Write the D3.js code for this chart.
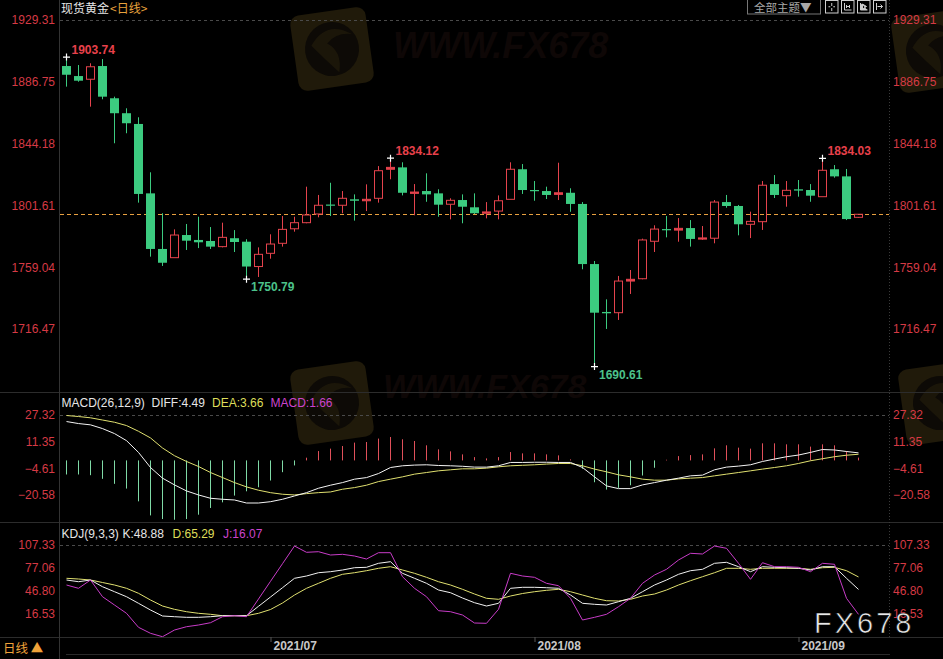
<!DOCTYPE html>
<html><head><meta charset="utf-8">
<script src="https://cdn.jsdelivr.net/npm/d3@7"></script>
<style>html,body{margin:0;padding:0;background:#000;overflow:hidden}</style>
</head><body><svg id="c" width="943" height="659"></svg>
<script>
// ---------------- DATA ----------------
const dates = [
 "2021-06-08","2021-06-09","2021-06-10","2021-06-11","2021-06-14","2021-06-15","2021-06-16","2021-06-17","2021-06-18",
 "2021-06-21","2021-06-22","2021-06-23","2021-06-24","2021-06-25","2021-06-28","2021-06-29","2021-06-30",
 "2021-07-01","2021-07-02","2021-07-05","2021-07-06","2021-07-07","2021-07-08","2021-07-09","2021-07-12","2021-07-13",
 "2021-07-14","2021-07-15","2021-07-16","2021-07-19","2021-07-20","2021-07-21","2021-07-22","2021-07-23","2021-07-26",
 "2021-07-27","2021-07-28","2021-07-29","2021-07-30",
 "2021-08-02","2021-08-03","2021-08-04","2021-08-05","2021-08-06","2021-08-09","2021-08-10","2021-08-11","2021-08-12",
 "2021-08-13","2021-08-16","2021-08-17","2021-08-18","2021-08-19","2021-08-20","2021-08-23","2021-08-24","2021-08-25",
 "2021-08-26","2021-08-27","2021-08-30","2021-08-31",
 "2021-09-01","2021-09-02","2021-09-03","2021-09-06","2021-09-07","2021-09-08"];
const open  = [1897.6,1890.7,1888.5,1897.6,1875.4,1865.1,1857.7,1809.9,1771.6,1765.6,1781.2,1777.8,1777.1,1773.2,1779.0,1776.6,1759.5,
 1768.6,1775.5,1785.5,1789.7,1795.7,1802.2,1801.7,1805.8,1804.8,1806.5,1826.5,1827.8,1809.9,1811.5,1809.9,1802.4,1805.3,1800.3,1796.2,1797.7,1805.8,1826.5,
 1812.2,1811.5,1809.2,1810.3,1802.6,1761.2,1728.2,1727.7,1749.5,1751.1,1776.9,1785.3,1784.6,1786.0,1778.4,1779.0,1803.9,1801.2,1788.6,1790.4,1816.3,1808.3,
 1812.7,1812.2,1807.6,1826.5,1821.6,1793.4];
const high  = [1903.74,1898.3,1899.5,1902.4,1876.5,1868.5,1862.3,1824.4,1796.2,1785.1,1788.8,1793.8,1786.7,1789.7,1784.6,1778.3,1772.7,
 1781.7,1794.3,1793.8,1814.5,1808.8,1817.2,1811.5,1809.2,1816.1,1828.7,1834.12,1831.3,1816.3,1823.7,1812.7,1806.5,1809.2,1809.9,1803.9,1808.5,1831.3,1830.1,
 1818.4,1814.5,1831.0,1813.4,1803.9,1763.3,1736.9,1753.0,1757.1,1778.7,1787.9,1794.3,1792.9,1791.5,1787.4,1805.3,1808.8,1801.9,1797.3,1818.4,1822.5,1818.4,
 1819.1,1816.3,1834.03,1829.4,1826.7,1795.5];
const low   = [1883.4,1886.8,1869.6,1874.7,1844.4,1851.3,1803.5,1766.3,1759.9,1765.6,1770.9,1772.2,1771.6,1772.7,1769.5,1750.79,1752.3,
 1764.9,1773.2,1783.5,1789.3,1793.4,1794.3,1796.2,1791.1,1797.7,1803.5,1819.6,1808.5,1794.8,1804.1,1793.8,1792.0,1789.3,1795.7,1792.7,1792.0,1805.8,1809.5,
 1804.8,1806.0,1805.3,1797.2,1757.6,1690.61,1716.5,1722.7,1740.6,1750.7,1769.5,1779.6,1776.6,1773.2,1777.8,1775.5,1800.0,1781.0,1779.1,1784.7,1806.7,1800.7,
 1807.6,1804.1,1807.6,1820.7,1791.5,1793.0];
const close = [1891.6,1887.5,1897.1,1876.5,1865.1,1858.2,1809.5,1771.6,1762.1,1781.2,1777.3,1776.2,1773.2,1779.6,1776.4,1759.5,1767.9,
 1775.0,1785.1,1789.7,1795.0,1801.7,1801.7,1806.5,1804.8,1805.8,1825.5,1827.8,1810.3,1810.8,1809.2,1802.1,1805.1,1800.7,1796.2,1797.1,1804.8,1826.5,1812.2,
 1811.8,1808.8,1810.3,1802.6,1761.2,1727.7,1727.3,1749.5,1750.7,1777.8,1785.3,1784.6,1785.8,1778.5,1779.2,1803.9,1801.2,1788.6,1790.6,1815.5,1808.8,1812.0,
 1811.8,1808.3,1825.8,1821.6,1792.2,1795.5];

const diff = [23.13,21.93,21.16,18.94,15.95,11.76,4.76,-4.22,-10.56,-14.57,-18.16,-20.55,-22.53,-23.12,-23.54,-25.34,-25.34,-24.56,-23.12,-21.15,
 -19.18,-16.55,-14.75,-13.19,-11.16,-10.22,-7.81,-4.22,-3.20,-2.78,-2.60,-3.02,-3.20,-3.50,-3.98,-4.00,-3.20,-1.22,-1.22,-1.10,
 -1.10,-1.22,-1.22,-4.22,-9.78,-15.17,-16.78,-16.78,-14.57,-13.19,-11.76,-10.56,-9.18,-8.76,-5.59,-3.98,-3.38,-2.60,-0.63,0.81,
 2.19,3.20,4.76,6.50,6.20,5.30,4.49];
const dea = [26.72,26.12,25.35,24.03,22.71,20.74,17.33,13.38,7.39,2.79,-0.63,-3.62,-7.21,-10.20,-13.19,-15.76,-17.74,-19.18,-20.13,-20.55,
 -19.77,-19.18,-18.76,-17.14,-16.18,-14.75,-12.59,-11.16,-9.78,-8.17,-7.21,-6.19,-5.59,-4.99,-4.99,-4.60,-3.80,-3.20,-2.90,-2.60,
 -2.18,-1.82,-1.82,-3.20,-5.17,-6.79,-8.58,-9.78,-11.16,-11.76,-11.76,-10.98,-10.56,-10.20,-9.18,-8.17,-7.21,-6.19,-5.17,-4.22,
 -3.20,-1.82,-0.20,1.00,2.20,3.10,3.66];
const macdHist = [-8.38,-8.38,-8.80,-10.95,-13.94,-16.76,-24.35,-32.73,-34.89,-35.30,-34.90,-32.30,-28.30,-24.95,-20.94,-18.37,-15.98,-11.97,-7.00,-2.99,
 1.62,5.57,7.00,8.56,10.59,10.95,12.99,13.94,12.57,11.55,8.98,6.58,5.38,3.59,1.97,1.20,1.97,4.97,4.19,4.19,
 3.59,2.99,0.60,-4.97,-12.99,-17.35,-16.34,-14.78,-8.98,-4.37,0.40,2.57,3.17,3.59,7.18,8.98,7.60,7.00,10.17,10.17,
 9.57,9.57,8.20,9.57,8.98,5.57,1.66];

const kVal = [61.27,59.03,61.27,52.45,45.87,39.29,30.60,21.78,13.89,12.97,12.17,12.17,12.97,14.28,14.28,14.28,26.65,38.89,51.13,63.50,
 66.53,70.87,72.19,74.43,77.45,77.98,83.24,85.35,70.08,63.50,56.92,48.10,44.55,37.58,31.39,27.05,30.60,50.34,51.66,51.66,
 51.13,50.34,41.53,30.60,29.29,28.36,32.71,37.18,45.87,54.69,61.27,68.77,73.51,75.35,83.24,84.56,78.77,72.19,78.77,77.98,
 77.45,76.66,74.43,78.77,78.77,63.50,48.88];
const dVal = [63.50,62.58,61.27,57.97,54.69,50.34,43.76,34.94,27.05,22.67,19.55,17.44,16.12,14.28,14.28,14.28,17.44,22.44,30.99,41.53,
 50.34,56.92,63.50,68.77,70.87,73.51,76.66,78.77,74.43,70.08,64.82,59.03,54.69,49.03,42.84,37.18,35.86,40.21,43.50,45.87,
 47.71,49.03,45.87,41.53,37.18,34.02,33.63,35.86,40.21,42.84,48.10,54.69,60.35,65.61,70.87,76.66,76.66,75.35,76.66,76.66,
 76.66,76.66,75.35,77.45,77.98,73.51,65.29];
const jVal = [54.69,50.34,61.27,39.29,28.36,17.44,-0.99,-8.88,-13.36,-4.54,-0.20,2.04,5.07,12.97,14.28,12.97,36.26,59.55,82.72,106.01,
 97.72,98.51,94.17,95.09,92.85,88.90,97.20,97.20,65.61,50.34,39.29,20.86,19.55,15.20,4.67,4.28,22.70,70.08,66.53,64.82,
 56.92,53.76,37.18,8.62,12.17,16.12,26.13,37.18,56.92,67.85,75.35,87.59,96.41,95.49,106.01,102.99,83.24,62.19,84.03,78.77,
 78.77,77.98,72.19,83.24,81.93,37.18,16.07];

const priceTicks = [1929.31,1886.75,1844.18,1801.61,1759.04,1716.47];
const macdTicks  = [27.32,11.35,-4.61,-20.58];
const kdjTicks   = [107.33,77.06,46.80,16.53];
const monthStarts = ["2021-07-01","2021-08-02","2021-09-01"];
const monthLabels = ["2021/07","2021/08","2021/09"];
const highMarks = ["2021-06-08","2021-07-15","2021-09-03"];
const lowMarks  = ["2021-06-29","2021-08-09"];
const lastPrice = 1795.5;

// ---------------- DRAW ----------------
const W = 943, H = 659;
const FONT = '"Liberation Sans", Arial, sans-serif';
const CJK = '"Noto Sans CJK SC", sans-serif';
const RED = '#e5434d', GREEN = '#3ccb80', AXRED = '#d63a45';
const svg = d3.select('#c');
svg.append('rect').attr('width', W).attr('height', H).attr('fill', '#000');

const x = d3.scalePoint().domain(dates).range([66, 858]);
const yP = d3.scaleLinear().domain([1716.47, 1929.31]).range([329, 20]);
const yM = d3.scaleLinear().domain([-20.58, 27.32]).range([495, 414.5]);
const yK = d3.scaleLinear().domain([16.53, 107.33]).range([614, 545]);
const idx = d3.range(dates.length);
const cx = i => x(dates[i]) + 0.5;

// watermarks (faint)
const wm = svg.append('g');
[[292, 8], [893, 10], [292, 362], [900, 362]].forEach(([wx, wy]) => {
  const lg = wm.append('g').attr('transform', `translate(${wx + 40},${wy + 41}) rotate(-8)`);
  lg.append('rect').attr('x', -38).attr('y', -38).attr('width', 76).attr('height', 76).attr('rx', 9).attr('fill', '#201a0a');
  lg.append('circle').attr('r', 27).attr('fill', '#0d0a06');
  lg.append('path').attr('d', 'M-20,-6 Q-2,-30 22,-12 Q6,-16 -4,-6 Q10,4 4,24 Q-8,10 -20,-6Z').attr('fill', '#1b1609');
});
[[393, 58, 36], [383, 398, 34]].forEach(([tx, ty, fs]) => {
  wm.append('text').attr('x', tx).attr('y', ty).text('WWW.FX678')
    .attr('font-family', FONT).attr('font-weight', 'bold').attr('font-style', 'italic')
    .attr('font-size', fs).attr('fill', '#0e0706');
});

// frame lines
const frame = svg.append('g');
[392.5, 522.5, 637.5].forEach(yy => frame.append('line').attr('x1', 0).attr('x2', W).attr('y1', yy).attr('y2', yy).attr('stroke', '#2c2c2c'));
frame.append('line').attr('x1', 66).attr('x2', 890).attr('y1', 654.5).attr('y2', 654.5).attr('stroke', '#2a2a2a');
frame.append('line').attr('x1', 59.5).attr('x2', 59.5).attr('y1', 0).attr('y2', H).attr('stroke', '#333');
frame.append('line').attr('x1', 889.5).attr('x2', 889.5).attr('y1', 0).attr('y2', 637).attr('stroke', '#3a3a3a').attr('stroke-dasharray', '1,2');
[[yP(priceTicks[0])], [yM(macdTicks[0])], [yK(kdjTicks[0])]].forEach(([yy]) =>
  frame.append('line').attr('x1', 60).attr('x2', 889).attr('y1', Math.round(yy) + 0.5).attr('y2', Math.round(yy) + 0.5)
    .attr('stroke', '#4a4a4a').attr('stroke-dasharray', '3,3'));

// clips
const defs = svg.append('defs');
defs.append('clipPath').attr('id', 'cm').append('rect').attr('x', 60).attr('y', 393).attr('width', 829).attr('height', 129);
defs.append('clipPath').attr('id', 'ck').append('rect').attr('x', 60).attr('y', 523).attr('width', 829).attr('height', 114);

// current price dashed line
svg.append('line').attr('x1', 60).attr('x2', 889)
  .attr('y1', Math.round(yP(lastPrice)) + 0.5).attr('y2', Math.round(yP(lastPrice)) + 0.5)
  .attr('stroke', '#e8a040').attr('stroke-dasharray', '4,3');

// candles
const cg = svg.append('g');
idx.forEach(i => {
  const o = open[i], c = close[i], h = high[i], l = low[i];
  const X = cx(i);
  if (c >= o) {
    const top = yP(c), bot = yP(o);
    cg.append('line').attr('x1', X).attr('x2', X).attr('y1', yP(h)).attr('y2', top).attr('stroke', RED);
    cg.append('line').attr('x1', X).attr('x2', X).attr('y1', bot).attr('y2', yP(l)).attr('stroke', RED);
    cg.append('rect').attr('x', X - 4).attr('y', top).attr('width', 8).attr('height', Math.max(bot - top, 0.8))
      .attr('fill', (bot - top) < 2.5 ? RED : 'none').attr('stroke', RED);
  } else {
    const top = yP(o), bot = yP(c);
    cg.append('line').attr('x1', X).attr('x2', X).attr('y1', yP(h)).attr('y2', yP(l)).attr('stroke', GREEN);
    cg.append('rect').attr('x', X - 4.5).attr('y', top).attr('width', 9).attr('height', Math.max(bot - top, 1.2)).attr('fill', GREEN);
  }
});

// extreme markers
function cross(X, Y) {
  cg.append('path').attr('d', `M${X - 3.5},${Y}H${X + 3.5}M${X},${Y - 3.5}V${Y + 3.5}`).attr('stroke', '#fff').attr('stroke-width', 1.2);
}
highMarks.forEach(d => {
  const i = dates.indexOf(d), X = cx(i), Y = yP(high[i]);
  cross(X, Y);
  cg.append('text').attr('x', X + 5).attr('y', Y - 3).text(d3.format('.2f')(high[i]))
    .attr('fill', '#e8414b').attr('font-family', FONT).attr('font-weight', 'bold').attr('font-size', 12);
});
lowMarks.forEach(d => {
  const i = dates.indexOf(d), X = cx(i), Y = yP(low[i]);
  cross(X, Y);
  cg.append('text').attr('x', X + 4.5).attr('y', Y + 12).text(d3.format('.2f')(low[i]))
    .attr('fill', '#4cc28a').attr('font-family', FONT).attr('font-weight', 'bold').attr('font-size', 12);
});

// MACD panel
const mg = svg.append('g').attr('clip-path', 'url(#cm)');
idx.forEach(i => {
  const v = macdHist[i];
  mg.append('line').attr('x1', cx(i)).attr('x2', cx(i)).attr('y1', yM(0)).attr('y2', yM(v))
    .attr('stroke', v >= 0 ? '#e0505a' : '#7fdaa6');
});
mg.append('path').datum(idx).attr('fill', 'none').attr('stroke', '#e0e070')
  .attr('d', d3.line().x(i => cx(i)).y(i => yM(dea[i])));
mg.append('path').datum(idx).attr('fill', 'none').attr('stroke', '#f4f4f4')
  .attr('d', d3.line().x(i => cx(i)).y(i => yM(diff[i])));

// KDJ panel
const kg = svg.append('g').attr('clip-path', 'url(#ck)');
[[dVal, '#e0e070'], [kVal, '#f0f0f0'], [jVal, '#c83cc8']].forEach(([arr, col]) =>
  kg.append('path').datum(idx).attr('fill', 'none').attr('stroke', col)
    .attr('d', d3.line().x(i => cx(i)).y(i => yK(arr[i]))));

// axes
function styleAxis(g) {
  g.select('.domain').remove();
  g.selectAll('.tick line').remove();
  g.attr('font-family', FONT).attr('font-size', 12);
  g.selectAll('text').attr('fill', AXRED);
}
const fmt = d3.format('.2f');
[[priceTicks, yP], [macdTicks, yM], [kdjTicks, yK]].forEach(([t, s]) => {
  svg.append('g').attr('transform', 'translate(58,0)')
    .call(d3.axisLeft(s).tickValues(t).tickSize(0).tickPadding(3).tickFormat(fmt)).call(styleAxis);
  svg.append('g').attr('transform', 'translate(889,0)')
    .call(d3.axisRight(s).tickValues(t).tickSize(0).tickPadding(4).tickFormat(fmt)).call(styleAxis);
});

// time axis
const xa = svg.append('g').attr('transform', 'translate(0,637)')
  .call(d3.axisBottom(x).tickValues(monthStarts).tickSize(5).tickFormat((d, i) => monthLabels[i]));
xa.select('.domain').remove();
xa.selectAll('.tick line').attr('stroke', '#555').attr('transform', 'translate(0.5,0)');
xa.selectAll('text').attr('text-anchor', 'start').attr('x', 3).attr('y', 4).attr('dy', '0.71em')
  .attr('fill', '#c8c8c8').attr('font-family', FONT).attr('font-size', 12).attr('font-weight', 'bold');

// headers
const hd = svg.append('g').attr('font-size', 12);
hd.append('text').attr('x', 61).attr('y', 13).attr('font-family', CJK).attr('fill', '#e6e6e6').text('现货黄金');
hd.append('text').attr('x', 110).attr('y', 13).attr('font-family', CJK).attr('fill', '#e8a33d').text('<日线>');
[['MACD(26,12,9)', 61.5, '#e6e6e6'], ['DIFF:4.49', 151.5, '#e6e6e6'], ['DEA:3.66', 212, '#dede5a'], ['MACD:1.66', 270.5, '#cc44cc']]
  .forEach(([t, xx, col]) => hd.append('text').attr('x', xx).attr('y', 407).attr('font-family', FONT).attr('fill', col).text(t));
[['KDJ(9,3,3)', 61.5, '#e6e6e6'], ['K:48.88', 122.5, '#e6e6e6'], ['D:65.29', 172.5, '#dede5a'], ['J:16.07', 223, '#cc44cc']]
  .forEach(([t, xx, col]) => hd.append('text').attr('x', xx).attr('y', 537.5).attr('font-family', FONT).attr('fill', col).text(t));

// bottom-left period label
svg.append('text').attr('x', 3).attr('y', 653).attr('font-family', CJK).attr('font-size', 12.5).attr('fill', '#f0a33a').text('日线 ▲');

// toolbar top right
const tb = svg.append('g');
tb.append('rect').attr('x', 747.5).attr('y', -0.5).attr('width', 73).attr('height', 14.5).attr('fill', 'none').attr('stroke', '#777');
tb.append('text').attr('x', 754).attr('y', 12).attr('font-family', CJK).attr('font-size', 11.5).attr('fill', '#a8a8a8').text('全部主题▼');
[825.5, 841.5, 857.5, 873.5].forEach((bx, k) => {
  tb.append('rect').attr('x', bx).attr('y', 0.5).attr('width', 12.5).attr('height', 12.5).attr('fill', 'none').attr('stroke', '#cfcfcf');
  const m = bx + 6.25;
  let d;
  if (k === 0) d = `M${m},3V6M${m},8V11M${bx + 3},6.75H${m - 1.5}M${m + 1.5},6.75H${bx + 9.5}`;
  else if (k === 1) d = `M${bx + 3},3V10H${bx + 10}M${bx + 5},5V8M${bx + 8},5V8M${bx + 5},6.5H${bx + 8}`;
  else if (k === 2) d = `M${bx + 3},3V10H${bx + 10}M${bx + 5},4L${bx + 9},6.5L${bx + 5},9Z`;
  else d = `M${bx + 3},3V10M${bx + 4},6.5H${bx + 9}M${bx + 7},4.5L${bx + 9},6.5L${bx + 7},8.5`;
  tb.append('path').attr('d', d).attr('fill', k === 2 ? '#cfcfcf' : 'none').attr('stroke', '#cfcfcf');
});

// FX678 watermark text
svg.append('text').attr('x', 814).attr('y', 633).attr('font-family', FONT).attr('font-size', 29)
  .attr('letter-spacing', 3).attr('fill', '#e8e8e8').attr('stroke', '#000').attr('stroke-width', 0.6).text('FX678');
</script></body></html>
